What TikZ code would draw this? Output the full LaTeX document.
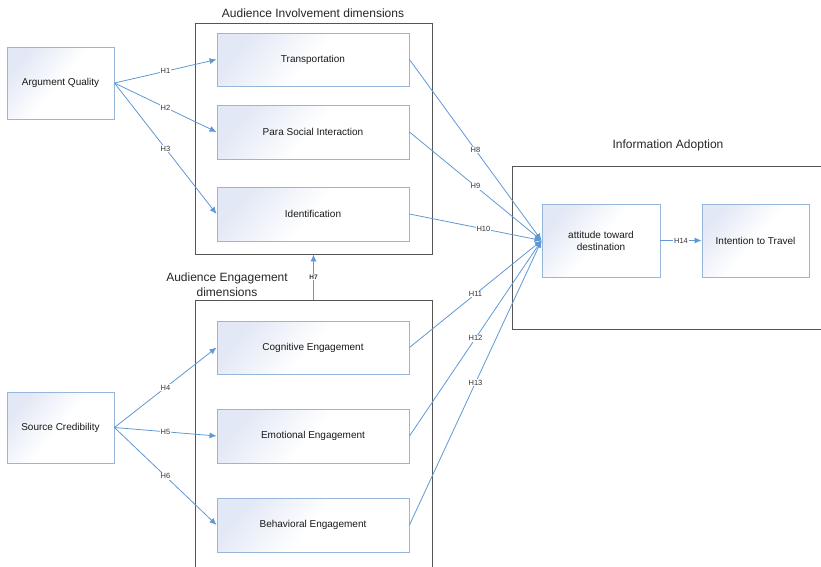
\documentclass[tikz,border=0pt]{standalone}
\usepackage{fontspec}
\setmainfont{Liberation Sans}
\usetikzlibrary{arrows.meta}
\definecolor{edgeblue}{RGB}{95,152,212}
\definecolor{boxline}{RGB}{150,182,218}
\definecolor{boxtint}{RGB}{226,232,245}
\definecolor{framegray}{RGB}{85,85,85}
\begin{document}
\begin{tikzpicture}[x=1pt,y=-1pt,
  concept/.style={draw=boxline, line width=0.9pt, top color=boxtint, bottom color=white,
    middle color=white, shading angle=50, font=\fontsize{10}{12}\selectfont,
    text=black!90, align=center, inner sep=0pt},
  frame/.style={draw=framegray, line width=0.8pt, inner sep=0pt},
  title/.style={font=\fontsize{12}{15}\selectfont, align=center, text=black!85},
  link/.style={draw=edgeblue, line width=0.8pt, -{Latex[length=7pt,width=6pt]}},
  hyp/.style={font=\fontsize{7.5}{9}\selectfont, fill=white, inner sep=0.8pt, text=black!80},
]
\useasboundingbox (0,0) rectangle (821,566);

% group frames
\node[frame, minimum width=237pt, minimum height=231pt] (invframe) at (313.5,138.5) {};
\node[frame, minimum width=237pt, minimum height=270pt] (engframe) at (313.5,435) {};
\node[frame, minimum width=318pt, minimum height=163pt] (adoptframe) at (671,247.5) {};

% group titles
\node[title] (invtitle) at (313,13) {Audience Involvement dimensions};
\node[title] (engtitle) at (227,285) {Audience Engagement\\dimensions};
\node[title] (adopttitle) at (668,145) {Information Adoption};

% constructs
\node[concept, minimum width=107pt, minimum height=72pt] (aq) at (60.5,83) {Argument Quality};
\node[concept, minimum width=107pt, minimum height=71pt] (sc) at (60.5,427.5) {Source Credibility};

\node[concept, minimum width=192pt, minimum height=53pt] (trans) at (313,59.5) {Transportation};
\node[concept, minimum width=192pt, minimum height=54pt] (psi) at (313,132) {Para Social Interaction};
\node[concept, minimum width=192pt, minimum height=54pt] (ident) at (313,214) {Identification};

\node[concept, minimum width=192pt, minimum height=53pt] (cog) at (313,347.5) {Cognitive Engagement};
\node[concept, minimum width=192pt, minimum height=54pt] (emo) at (313,436) {Emotional Engagement};
\node[concept, minimum width=192pt, minimum height=54pt] (beh) at (313,525) {Behavioral Engagement};

\node[concept, minimum width=118pt, minimum height=73pt] (att) at (601,240.5) {attitude toward\\destination};
\node[concept, minimum width=107pt, minimum height=73pt] (int) at (755.5,240.5) {Intention to Travel};

% hypotheses
\draw[link] (aq.east) -- node[hyp] {H1} (trans.west);
\draw[link] (aq.east) -- node[hyp] {H2} (psi.west);
\draw[link] (aq.east) -- node[hyp] {H3} (ident.west);

\draw[link] (sc.east) -- node[hyp] {H4} (cog.west);
\draw[link] (sc.east) -- node[hyp] {H5} (emo.west);
\draw[link] (sc.east) -- node[hyp] {H6} (beh.west);

\draw[link] (engframe.north) -- node[hyp, font=\fontsize{6.5}{8}\selectfont\bfseries] {H7} (invframe.south);

\draw[link] (trans.east) -- node[hyp] {H8} (att.west);
\draw[link] (psi.east) -- node[hyp] {H9} (att.west);
\draw[link] (ident.east) -- node[hyp, pos=0.56] {H10} (att.west);
\draw[link] (cog.east) -- node[hyp] {H11} (att.west);
\draw[link] (emo.east) -- node[hyp] {H12} (att.west);
\draw[link] (beh.east) -- node[hyp] {H13} (att.west);

\draw[link] (att.east) -- node[hyp] {H14} (int.west);
\end{tikzpicture}
\end{document}
